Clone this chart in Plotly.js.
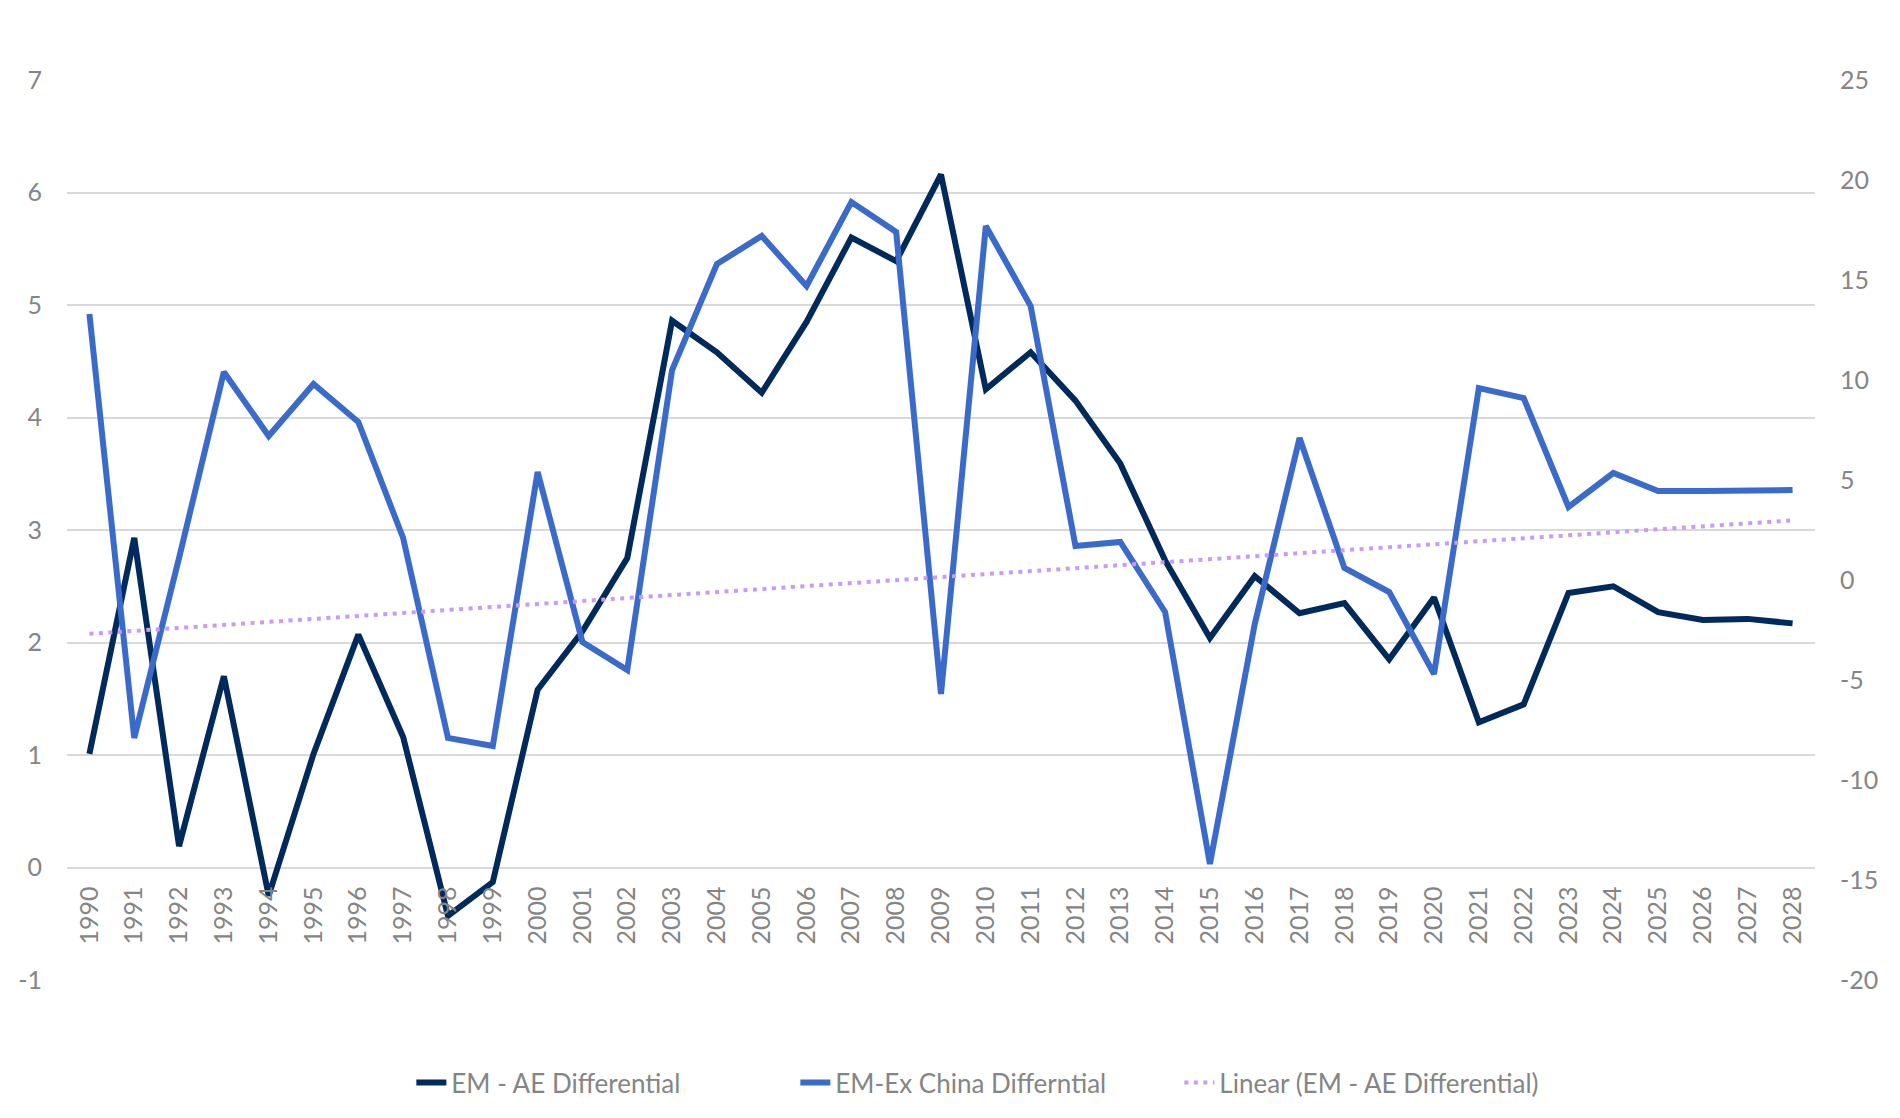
<!DOCTYPE html>
<html>
<head>
<meta charset="utf-8">
<script src="https://cdn.plot.ly/plotly-3.0.1.min.js"></script>
<style>
  html, body { margin: 0; padding: 0; background: #fff; }
  #chart { width: 1900px; height: 1118px; }
</style>
</head>
<body>
<div id="chart"></div>
<script>
const years = [
  '1990', '1991', '1992', '1993', '1994', '1995', '1996', '1997', '1998', '1999',
  '2000', '2001', '2002', '2003', '2004', '2005', '2006', '2007', '2008', '2009',
  '2010', '2011', '2012', '2013', '2014', '2015', '2016', '2017', '2018', '2019',
  '2020', '2021', '2022', '2023', '2024', '2025', '2026', '2027', '2028',
]

// left axis
const emAeDiff = [
  1.01, 2.93, 0.19, 1.70, -0.25, 1.01, 2.07, 1.16, -0.43, -0.13,
  1.58, 2.10, 2.75, 4.86, 4.58, 4.22, 4.85, 5.60, 5.39, 6.16,
  4.25, 4.58, 4.15, 3.59, 2.73, 2.04, 2.59, 2.26, 2.35, 1.85,
  2.40, 1.29, 1.45, 2.44, 2.50, 2.27, 2.20, 2.21, 2.17,
]

// right axis
const emExChinaDiff = [
  13.3, -7.9, 1.1, 10.4, 7.2, 9.8, 7.9, 2.1, -7.9, -8.3,
  5.4, -3.1, -4.5, 10.5, 15.8, 17.2, 14.7, 18.9, 17.4, -5.7,
  17.7, 13.7, 1.7, 1.9, -1.6, -14.2, -2.2, 7.1, 0.6, -0.6,
  -4.7, 9.6, 9.1, 3.65, 5.35, 4.45, 4.45, 4.5, 4.5,
]

const leftTicks = [-1, 0, 1, 2, 3, 4, 5, 6, 7]
const leftTickText = ['-1', '0', '1', '2', '3', '4', '5', '6', '7']
const rightTicks = [-20, -15, -10, -5, 0, 5, 10, 15, 20, 25]
const rightTickText = ['-20', '-15', '-10', '-5', '0', '5', '10', '15', '20', '25']

// least squares trend of the EM - AE series, like the spreadsheet trendline
const n = emAeDiff.length
const idx = emAeDiff.map((_, i) => i)
const meanX = idx.reduce((a, b) => a + b, 0) / n
const meanY = emAeDiff.reduce((a, b) => a + b, 0) / n
let sxy = 0
let sxx = 0
idx.forEach(i => {
  sxy += (i - meanX) * (emAeDiff[i] - meanY)
  sxx += (i - meanX) * (i - meanX)
})
const slope = sxy / sxx
const trend = idx.map(i => meanY + slope * (i - meanX))

const FONT = 'Lato, "Open Sans", sans-serif'
const GREY = '#858585'

const data = [
  {
    x: years,
    y: emAeDiff,
    mode: 'lines',
    name: 'EM - AE Differential',
    line: { color: '#00295C', width: 6 },
    yaxis: 'y',
  },
  {
    x: years,
    y: emExChinaDiff,
    mode: 'lines',
    name: 'EM-Ex China Differntial',
    line: { color: '#3A6BCB', width: 6 },
    yaxis: 'y2',
  },
  {
    x: years,
    y: trend,
    mode: 'lines',
    name: 'Linear (EM - AE Differential)',
    line: { color: '#C89BF6', width: 4, dash: '4px,5.5px' },
    yaxis: 'y3',
  },
]

const layout = {
  width: 1900,
  height: 1118,
  paper_bgcolor: '#ffffff',
  plot_bgcolor: '#ffffff',
  font: { family: FONT, size: 25, color: GREY },
  margin: { l: 67, r: 85, t: 80, b: 138 },
  showlegend: true,
  legend: {
    orientation: 'h',
    x: 0.197,
    xanchor: 'left',
    y: -0.114,
    yanchor: 'middle',
    font: { family: FONT, size: 26, color: GREY },
    entrywidth: 339,
    entrywidthmode: 'pixels',
    bgcolor: 'rgba(0,0,0,0)',
  },
  xaxis: {
    type: 'category',
    categoryorder: 'array',
    categoryarray: years,
    range: [-0.5, years.length - 0.5],
    anchor: 'free',
    position: 0.125,
    tickangle: -90,
    ticks: '',
    ticklabelstandoff: 13,
    showgrid: false,
    showline: false,
    zeroline: false,
    tickfont: { family: FONT, size: 25, color: GREY },
  },
  yaxis: {
    range: [-1, 7],
    tickvals: leftTicks,
    ticktext: leftTickText,
    ticks: '',
    showline: false,
    zeroline: false,
    gridcolor: '#D9D9D9',
    gridwidth: 2,
    ticklabelstandoff: 24,
    tickfont: { family: FONT, size: 25, color: GREY },
  },
  yaxis2: {
    range: [-20, 25],
    tickvals: rightTicks,
    ticktext: rightTickText,
    overlaying: 'y',
    side: 'right',
    ticks: '',
    showgrid: false,
    showline: false,
    zeroline: false,
    ticklabelstandoff: 24,
    tickfont: { family: FONT, size: 25, color: GREY },
  },
  yaxis3: {
    range: [-1, 7],
    overlaying: 'y',
    visible: false,
    showgrid: false,
    zeroline: false,
  },
}

const config = {
  displayModeBar: false,
  displaylogo: false,
  responsive: false,
  staticPlot: true,
}

Plotly.newPlot('chart', data, layout, config)
</script>
</body>
</html>
